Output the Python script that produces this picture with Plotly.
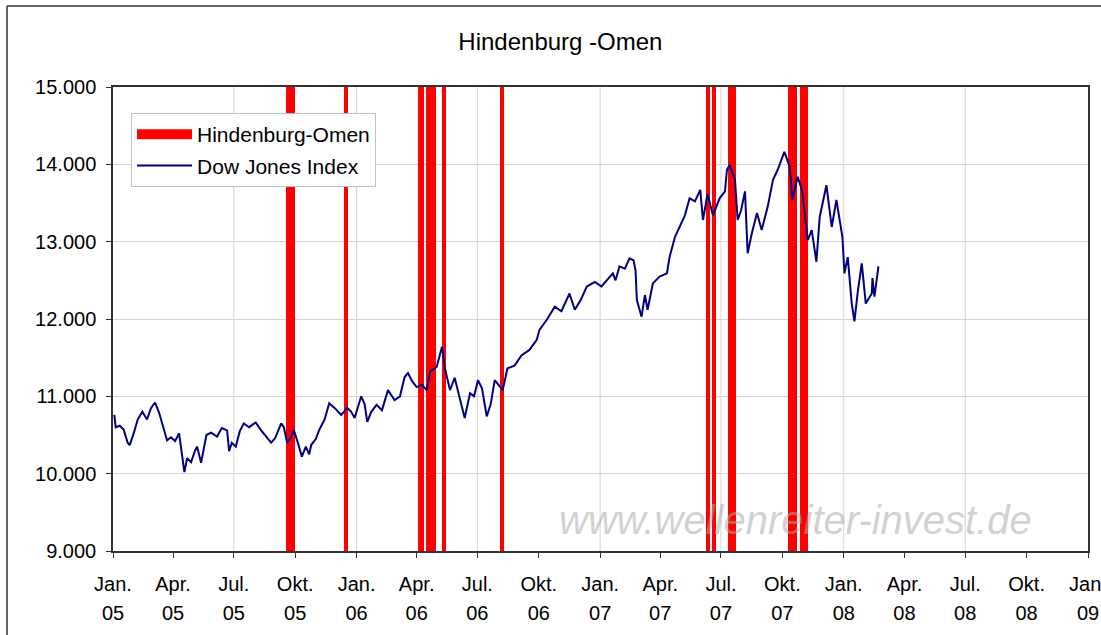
import plotly.graph_objects as go

# Dow Jones Index (roughly weekly points)
dow_dates = [
    "2005-01-03", "2005-01-05", "2005-01-11", "2005-01-17", "2005-01-23", "2005-01-26",
    "2005-02-01", "2005-02-07", "2005-02-14", "2005-02-21", "2005-02-27", "2005-03-05",
    "2005-03-11", "2005-03-17", "2005-03-23", "2005-03-29", "2005-04-04", "2005-04-10",
    "2005-04-14", "2005-04-18", "2005-04-22", "2005-04-28", "2005-05-04", "2005-05-07",
    "2005-05-13", "2005-05-21", "2005-05-28", "2005-06-06", "2005-06-13", "2005-06-21",
    "2005-06-24", "2005-06-28", "2005-07-04", "2005-07-10", "2005-07-16", "2005-07-24",
    "2005-07-30", "2005-08-03", "2005-08-11", "2005-08-17", "2005-08-26", "2005-09-01",
    "2005-09-10", "2005-09-14", "2005-09-19", "2005-09-25", "2005-09-29", "2005-10-05",
    "2005-10-11", "2005-10-17", "2005-10-22", "2005-10-25", "2005-11-01", "2005-11-06",
    "2005-11-14", "2005-11-21", "2005-11-29", "2005-12-09", "2005-12-18", "2005-12-24",
    "2005-12-29", "2006-01-08", "2006-01-13", "2006-01-17", "2006-01-23", "2006-01-31",
    "2006-02-08", "2006-02-17", "2006-02-27", "2006-03-07", "2006-03-14", "2006-03-19",
    "2006-03-25", "2006-04-01", "2006-04-09", "2006-04-16", "2006-04-21", "2006-05-01",
    "2006-05-09", "2006-05-13", "2006-05-21", "2006-05-28", "2006-06-05", "2006-06-12",
    "2006-06-20", "2006-06-26", "2006-07-02", "2006-07-08", "2006-07-15", "2006-07-21",
    "2006-07-27", "2006-08-02", "2006-08-08", "2006-08-15", "2006-08-26", "2006-09-05",
    "2006-09-17", "2006-09-28", "2006-10-02", "2006-10-13", "2006-10-25", "2006-11-04",
    "2006-11-16", "2006-11-24", "2006-12-03", "2006-12-12", "2006-12-24", "2007-01-03",
    "2007-01-11", "2007-01-20", "2007-01-24", "2007-01-30", "2007-02-07", "2007-02-14",
    "2007-02-20", "2007-02-23", "2007-02-25", "2007-03-04", "2007-03-09", "2007-03-13",
    "2007-03-21", "2007-03-31", "2007-04-11", "2007-04-15", "2007-04-23", "2007-05-03",
    "2007-05-08", "2007-05-15", "2007-05-23", "2007-05-31", "2007-06-04", "2007-06-11",
    "2007-06-19", "2007-06-29", "2007-07-07", "2007-07-10", "2007-07-14", "2007-07-22",
    "2007-07-26", "2007-07-31", "2007-08-06", "2007-08-10", "2007-08-16", "2007-08-24",
    "2007-08-31", "2007-09-09", "2007-09-17", "2007-09-24", "2007-10-04", "2007-10-12",
    "2007-10-16", "2007-10-24", "2007-10-31", "2007-11-08", "2007-11-14", "2007-11-21",
    "2007-11-26", "2007-12-06", "2007-12-14", "2007-12-21", "2007-12-30", "2008-01-02",
    "2008-01-07", "2008-01-13", "2008-01-17", "2008-01-22", "2008-01-28", "2008-02-03",
    "2008-02-12", "2008-02-13", "2008-02-16", "2008-02-22",
]
dow_values = [
    10760, 10600, 10620, 10570, 10400, 10370,
    10520, 10700, 10800, 10700, 10850, 10920,
    10790, 10620, 10430, 10470, 10420, 10520,
    10300, 10020, 10200, 10150, 10300, 10350,
    10140, 10500, 10530, 10480, 10590, 10560,
    10290, 10400, 10350, 10550, 10650, 10600,
    10640, 10660, 10560, 10500, 10400, 10460,
    10650, 10600, 10400, 10480, 10565, 10400,
    10220, 10350, 10250, 10370, 10450, 10565,
    10700, 10910, 10850, 10760, 10850, 10800,
    10720, 11000, 10900, 10670, 10800, 10890,
    10820, 11080, 10950, 11000, 11250, 11300,
    11200, 11120, 11150, 11080, 11320, 11380,
    11640, 11380, 11080, 11240, 10950, 10720,
    11040, 11000, 11210, 11100, 10740, 10900,
    11210, 11150, 11080, 11360, 11400, 11530,
    11600, 11730, 11860, 11990, 12160, 12100,
    12330, 12120, 12250, 12420, 12480, 12420,
    12500, 12590, 12500, 12680, 12650, 12785,
    12760, 12630, 12245, 12030, 12310, 12120,
    12460, 12550, 12590, 12800, 13060, 13240,
    13340, 13560, 13520, 13670, 13280, 13620,
    13340, 13560, 13650, 13930, 13990, 13800,
    13280, 13400, 13650, 12850, 13100, 13370,
    13150, 13450, 13800, 13930, 14160, 13970,
    13540, 13840, 13650, 13020, 13150, 12740,
    13320, 13730, 13190, 13540, 13060, 12590,
    12800, 12200, 11970, 12350, 12720, 12200,
    12330, 12530, 12290, 12680,
]

# Hindenburg-Omen signal days
omen_dates = [
    "2005-09-20", "2005-09-24", "2005-09-28", "2005-12-16",
    "2006-04-06", "2006-04-09", "2006-04-18", "2006-04-22", "2006-04-27",
    "2006-05-12", "2006-08-07",
    "2007-06-11", "2007-06-20", "2007-07-14", "2007-07-21",
    "2007-10-12", "2007-10-16", "2007-10-20", "2007-10-30", "2007-11-06",
]

# x axis: quarterly ticks, gridlines every half year
tick_dates = [
    "2005-01-01", "2005-04-01", "2005-07-01", "2005-10-01",
    "2006-01-01", "2006-04-01", "2006-07-01", "2006-10-01",
    "2007-01-01", "2007-04-01", "2007-07-01", "2007-10-01",
    "2008-01-01", "2008-04-01", "2008-07-01", "2008-10-01",
    "2009-01-01",
]
tick_months = ["Jan.", "Apr.", "Jul.", "Okt."] * 4 + ["Jan."]
tick_years = ["05"] * 4 + ["06"] * 4 + ["07"] * 4 + ["08"] * 4 + ["09"]
grid_dates = ["2005-07-01", "2006-01-01", "2006-07-01", "2007-01-01",
              "2007-07-01", "2008-01-01", "2008-07-01"]

y_min, y_max = 9000, 15000
x_range = ["2005-01-01", "2009-01-01"]

FONT = "Liberation Sans, Arial, sans-serif"
DAY_MS = 86400000

fig = go.Figure()

fig.add_trace(go.Bar(
    x=omen_dates, y=[y_max] * len(omen_dates), base=y_min,
    width=6 * DAY_MS, marker=dict(color="#ff0000", line=dict(width=0)),
    name="Hindenburg-Omen", showlegend=False, hoverinfo="x",
))
# legend entry for the red columns (wide red swatch like the original)
fig.add_trace(go.Scatter(
    x=[None], y=[None], mode="lines", line=dict(color="#ff0000", width=13),
    name="Hindenburg-Omen", legendgroup="omen",
))
fig.add_trace(go.Scatter(
    x=dow_dates, y=dow_values, mode="lines", xaxis="x2",
    line=dict(color="#000080", width=2),
    name="Dow Jones Index", legendgroup="dow",
))

for d in grid_dates:
    fig.add_shape(type="line", xref="x", yref="paper", x0=d, x1=d, y0=0, y1=1,
                  line=dict(color="#d4d4d4", width=1), layer="below")

# outer chart frame: only its top and left edges fall inside the picture
frame = dict(color="#333333", width=1.5)
fig.add_shape(type="line", xref="paper", yref="paper",
              x0=-0.1087, x1=1.2, y0=1.1746, y1=1.1746, line=frame)
fig.add_shape(type="line", xref="paper", yref="paper",
              x0=-0.1087, x1=-0.1087, y0=-0.3, y1=1.1746, line=frame)

fig.add_annotation(
    text="www.wellenreiter-invest.de", xref="paper", yref="paper",
    x=0.6995, y=0.067, xanchor="center", yanchor="middle", showarrow=False,
    font=dict(family=FONT, size=40, color="rgba(170,170,170,0.55)", style="italic"),
)

fig.update_layout(
    width=1101, height=635,
    margin=dict(l=113, r=13, t=87, b=84, autoexpand=False),
    paper_bgcolor="white", plot_bgcolor="white",
    font=dict(family=FONT, size=20, color="black"),
    separators=",.",
    title=dict(text="Hindenburg -Omen", x=0.509, xanchor="center",
               y=0.934, yanchor="middle", font=dict(size=24)),
    bargap=0,
    legend=dict(x=0.0185, y=0.944, xanchor="left", yanchor="top",
                bgcolor="white", bordercolor="#c0c0c0", borderwidth=1,
                traceorder="grouped", tracegroupgap=1, itemwidth=55,
                font=dict(size=21)),
    xaxis=dict(
        type="date", range=x_range, tickmode="array", automargin=False,
        tickvals=tick_dates, ticktext=tick_months, ticklabeloverflow="allow",
        showgrid=False, zeroline=False,
        showline=True, linecolor="#333333", linewidth=2, mirror=True,
        ticks="outside", ticklen=5, tickcolor="#333333",
        ticklabelstandoff=9,
    ),
    xaxis2=dict(
        type="date", range=x_range, overlaying="x", anchor="y", side="bottom",
        tickmode="array", tickvals=tick_dates, ticktext=tick_years, automargin=False,
        ticklabeloverflow="allow",
        showgrid=False, zeroline=False, showline=False, ticks="",
        ticklabelstandoff=48,
    ),
    yaxis=dict(
        range=[y_min, y_max], dtick=1000, tickformat=",d", automargin=False,
        showgrid=True, gridcolor="#d4d4d4", gridwidth=1, zeroline=False,
        showline=True, linecolor="#333333", linewidth=1.5, mirror=True,
        ticks="outside", ticklen=5, tickcolor="#333333",
        ticklabelstandoff=6,
    ),
)

fig.write_html("out.html", config={"displayModeBar": False},
               post_script="document.body.style.margin='0';")
